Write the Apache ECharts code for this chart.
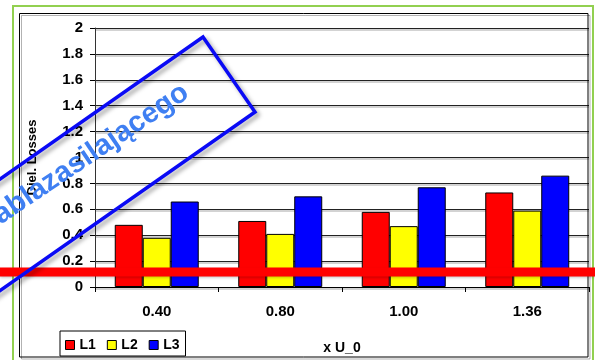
<!DOCTYPE html>
<html>
<head>
<meta charset="utf-8">
<script src="https://cdn.jsdelivr.net/npm/echarts@6/dist/echarts.min.js"></script>
<style>html,body{margin:0;padding:0;background:#fff}#c{width:595px;height:360px}</style>
</head>
<body>
<div id="c"></div>
<script>
var categories = ['0.40', '0.80', '1.00', '1.36'];
var seriesNames = ['L1', 'L2', 'L3'];
var L1 = [0.48, 0.51, 0.58, 0.73];
var L2 = [0.38, 0.41, 0.47, 0.59];
var L3 = [0.66, 0.70, 0.77, 0.86];
var seriesColors = ['#ff0000', '#ffff00', '#0000ff'];
var yAxisName = 'Diel. Losses';
var xAxisName = 'x U_0';
var stampText = 'Tablazasilającego';

var chart = echarts.init(document.getElementById('c'), null, {renderer: 'canvas'});
var font = 'Liberation Sans, Arial, sans-serif';
var seriesData = [L1, L2, L3];
var deg = Math.PI / 180;

var option = {
  animation: false,
  backgroundColor: '#fff',
  textStyle: {fontFamily: font},
  grid: {left: 95, right: 6, top: 28, bottom: 73, containLabel: false},
  legend: {
    left: 60, top: 331,
    padding: [7, 6, 4, 5],
    borderColor: '#000', borderWidth: 1,
    backgroundColor: '#fff',
    itemWidth: 9, itemHeight: 9, itemGap: 11,
    icon: 'rect',
    itemStyle: {borderColor: '#000', borderWidth: 1},
    textStyle: {fontFamily: font, fontWeight: 'bold', fontSize: 14, color: '#000'},
    data: seriesNames
  },
  xAxis: {
    type: 'category',
    data: categories,
    boundaryGap: true,
    name: xAxisName,
    nameLocation: 'middle',
    nameGap: 54,
    nameTextStyle: {fontFamily: font, fontWeight: 'bold', fontSize: 14, color: '#000'},
    axisLine: {lineStyle: {color: '#000', width: 1}},
    axisTick: {show: true, alignWithLabel: false, length: 5, inside: false, lineStyle: {color: '#000'}},
    axisLabel: {margin: 17, fontFamily: font, fontWeight: 'bold', fontSize: 15, color: '#000'},
    splitLine: {show: false}
  },
  yAxis: {
    type: 'value',
    min: 0, max: 2, interval: 0.2,
    name: yAxisName,
    nameLocation: 'middle',
    nameGap: 56,
    nameRotate: 90,
    nameTextStyle: {fontFamily: font, fontWeight: 'bold', fontSize: 13, color: '#000'},
    axisLine: {show: true, lineStyle: {color: '#333', width: 1}},
    axisTick: {show: true, length: 5, inside: false, lineStyle: {color: '#000'}},
    axisLabel: {margin: 12, fontFamily: font, fontWeight: 'bold', fontSize: 15, color: '#000'},
    splitLine: {show: true, lineStyle: {color: '#222', width: 1, shadowColor: 'rgba(0,0,0,0.35)', shadowOffsetY: 1.5}}
  },
  series: seriesNames.map(function (n, i) {
    return {
      name: n,
      type: 'bar',
      data: seriesData[i],
      barGap: '0%',
      barCategoryGap: '32%',
      itemStyle: {color: seriesColors[i], borderColor: '#000', borderWidth: 1}
    };
  }),
  graphic: [
    {type: 'rect', z: 1, silent: true, shape: {x: 13, y: 6, width: 580, height: 370},
     style: {fill: null, stroke: '#92d050', lineWidth: 2}},
    {type: 'rect', z: 1, silent: true, shape: {x: 19.5, y: 13.5, width: 568.5, height: 343.5},
     style: {fill: null, stroke: '#000', lineWidth: 1, shadowColor: 'rgba(0,0,0,0.3)', shadowOffsetX: 2, shadowOffsetY: 2}},
    {type: 'line', z: 100, silent: true, shape: {x1: 0, y1: 272, x2: 595, y2: 272},
     style: {stroke: '#ff0000', lineWidth: 9, shadowColor: 'rgba(0,0,0,0.25)', shadowBlur: 3, shadowOffsetY: 1}},
    {type: 'polygon', z: 101, silent: true,
     shape: {points: [[203, 37], [255, 112], [255 - 420 * Math.cos(35 * deg), 112 + 420 * Math.sin(35 * deg)], [203 - 420 * Math.cos(35 * deg), 37 + 420 * Math.sin(35 * deg)]]},
     style: {fill: null, stroke: '#0a0af5', lineWidth: 3.5, lineJoin: 'miter', shadowColor: 'rgba(0,0,0,0.35)', shadowBlur: 4, shadowOffsetX: 3, shadowOffsetY: 3}},
    {type: 'text', z: 102, silent: true, x: 186, y: 90, rotation: 34 * deg,
     style: {text: stampText, fill: '#3f7ff2', font: 'bold 29px Liberation Sans, Arial, sans-serif',
             align: 'right', verticalAlign: 'middle',
             shadowColor: 'rgba(0,0,0,0.4)', shadowBlur: 4, shadowOffsetX: 3, shadowOffsetY: 3}}
  ]
};
chart.setOption(option);
</script>
</body>
</html>
